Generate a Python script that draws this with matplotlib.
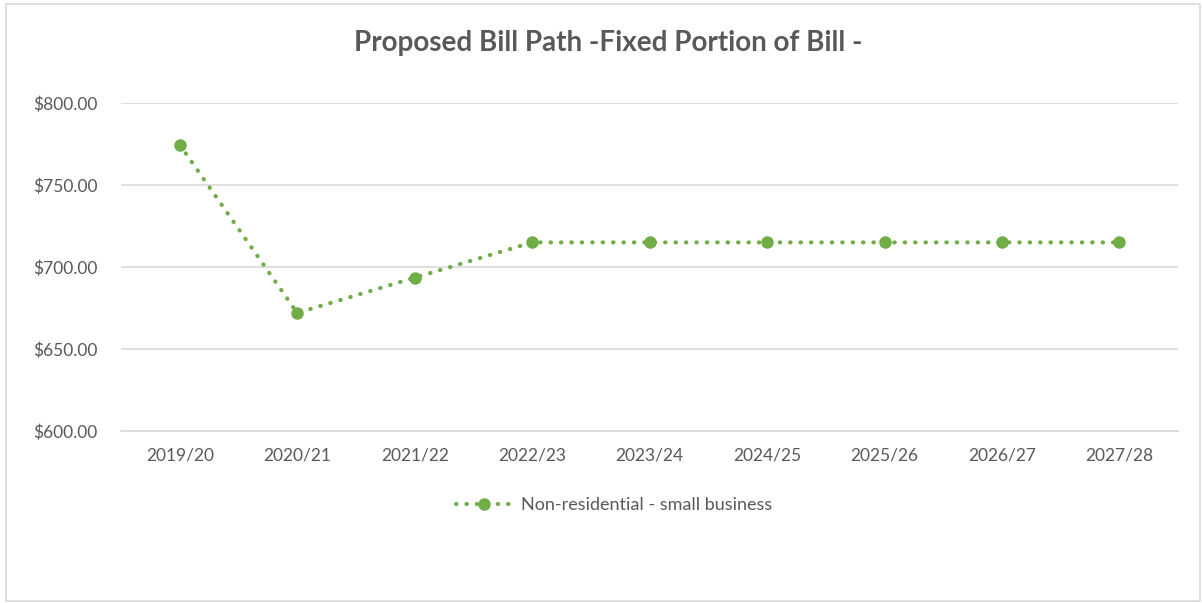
import matplotlib.pyplot as plt
from matplotlib.patches import Rectangle
from matplotlib.ticker import FuncFormatter

years = ['2019/20', '2020/21', '2021/22', '2022/23', '2023/24',
         '2024/25', '2025/26', '2026/27', '2027/28']
fixed_bill = [774.5, 672.0, 693.5, 715.0, 715.0, 715.0, 715.0, 715.0, 715.0]
series_name = 'Non-residential - small business'

plt.rcParams['font.family'] = ['Lato', 'DejaVu Sans']
green = '#70AD47'
grey = '#595959'

fig = plt.figure(figsize=(12.02, 6.03), dpi=100)
ax = fig.add_axes([0.1007, 0.2852, 0.8795, 0.544])

x = range(len(years))
ax.plot(x, fixed_bill, color=green, linestyle=(0, (0.1, 2.4)), dash_capstyle='round',
        linewidth=3.0, marker='o', markersize=8, label=series_name)

ax.set_xlim(-0.5, len(years) - 0.5)
ax.set_ylim(600, 800)
ax.set_yticks([600, 650, 700, 750, 800])
ax.yaxis.set_major_formatter(FuncFormatter(lambda v, p: '${:,.2f}'.format(v)))
ax.set_xticks(list(x))
ax.set_xticklabels(years)

ax.grid(axis='y', color='#D9D9D9', linewidth=1.2)
ax.set_axisbelow(True)
for s in ['top', 'right', 'left']:
    ax.spines[s].set_visible(False)
ax.spines['bottom'].set_color('#D9D9D9')
ax.spines['bottom'].set_linewidth(1.2)
ax.tick_params(length=0, labelsize=12.5, labelcolor=grey)
ax.tick_params(axis='x', pad=12)
ax.tick_params(axis='y', pad=17)

fig.text(0.506, 0.928, 'Proposed Bill Path -Fixed Portion of Bill -',
         ha='center', va='center', fontsize=20, fontweight='bold', color=grey)

# legend sits a bit left of the plot centre, as in the original
ax.legend(loc='center', bbox_to_anchor=(0.466, -0.225), frameon=False,
          fontsize=13, labelcolor=grey, handlelength=3.2, handletextpad=0.4)

fig.patches.append(Rectangle((0.005, 0.003), 0.993, 0.99, transform=fig.transFigure,
                             fill=False, edgecolor='#D9D9D9', linewidth=1.2))

fig.savefig('out.png', dpi=100)
